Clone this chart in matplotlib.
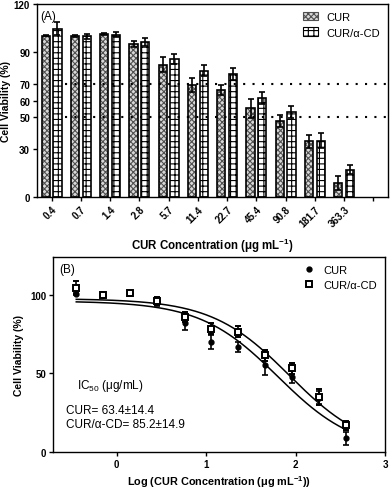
import numpy as np
import matplotlib
matplotlib.use("Agg")
import matplotlib.pyplot as plt

plt.rcParams['font.family'] = ['Liberation Sans', 'DejaVu Sans']
plt.rcParams['mathtext.fontset'] = 'custom'
plt.rcParams['mathtext.rm'] = 'Liberation Sans'
plt.rcParams['mathtext.bf'] = 'Liberation Sans:bold'
plt.rcParams['mathtext.default'] = 'rm'
plt.rcParams['hatch.linewidth'] = 0.8

# concentrations (ug/mL) and their log values
conc_labels = ["0.4", "0.7", "1.4", "2.8", "5.7", "11.4", "22.7", "45.4", "90.8", "181.7", "363.3"]
log_conc = [-0.45, -0.15, 0.15, 0.45, 0.76, 1.06, 1.36, 1.66, 1.96, 2.26, 2.56]

# cell viability (%)
cur_mean = [100.3, 100.0, 101.4, 95.1, 82.3, 69.7, 66.7, 55.2, 47.5, 34.6, 8.7]
cur_err = [0.5, 0.5, 0.6, 2.0, 4.5, 4.5, 3.0, 6.0, 3.7, 4.0, 4.2]
cd_mean = [104.5, 100.0, 101.0, 96.2, 85.8, 78.5, 76.5, 61.4, 53.1, 35.0, 17.0]
cd_err = [4.0, 1.5, 1.5, 2.5, 3.0, 3.5, 3.5, 3.7, 3.7, 4.8, 3.0]

# fitted dose-response parameters (top, bottom, logIC50, hill)
cur_fit = [96.0, 0.0, np.log10(63.4), 1.0]
cd_fit = [97.5, 0.0, np.log10(85.2), 1.0]


def dose_resp(x, top, bottom, logic50, hill):
    return bottom + (top - bottom) / (1 + 10 ** ((x - logic50) * hill))


fig = plt.figure(figsize=(3.92, 4.89), dpi=100)
ekw = dict(ecolor='black', elinewidth=1.2, capsize=2.5, capthick=1.2)

# ---- panel A
ax1 = fig.add_axes([37/392, 1-198/489, 351/392, 193/489])
x = np.arange(len(conc_labels))
w = 0.28
# hatched fill first (gray hatch lines), then black outline + error bars
ax1.bar(x - 0.2, cur_mean, w, color='#d8d8d8', edgecolor='#505050', hatch='xxxxxx',
        linewidth=0)
ax1.bar(x + 0.2, cd_mean, w, color='white', edgecolor='black', hatch='+++', linewidth=0)
ax1.bar(x - 0.2, cur_mean, w, yerr=cur_err, fill=False, edgecolor='black',
        linewidth=1.2, error_kw=ekw)
ax1.bar(x + 0.2, cd_mean, w, yerr=cd_err, fill=False, edgecolor='black',
        linewidth=1.2, error_kw=ekw)
# legend proxies
p1 = ax1.bar([0], [0], color='#d8d8d8', edgecolor='#505050', hatch='xxxxxx', linewidth=0.8)
p2 = ax1.bar([0], [0], color='white', edgecolor='black', hatch='+++', linewidth=0.8)
for lvl in [70, 50]:
    ax1.plot([0.45, 11.5], [lvl, lvl], color='black', lw=1.5, ls=(0, (1, 3.5)))
ax1.set_xlim(-0.5, 11.5)
ax1.set_ylim(0, 120)
ax1.set_yticks([0, 30, 50, 60, 70, 90, 120])
ax1.set_xticks(np.arange(len(conc_labels) + 1))
ax1.set_xticklabels(conc_labels + [""], rotation=45, ha='right', rotation_mode='anchor')
ax1.tick_params(labelsize=7, width=1, length=3, pad=2)
for t in ax1.get_xticklabels() + ax1.get_yticklabels():
    t.set_fontweight('bold')
ax1.set_ylabel("Cell Viability (%)", fontsize=7.5, fontweight='bold', labelpad=2)
ax1.set_xlabel("CUR Concentration (μg mL$^{\\mathbf{-1}}$)", fontsize=8.3, fontweight='bold',
               labelpad=5)
ax1.text(0.01, 0.97, "(A)", transform=ax1.transAxes, fontsize=8.5, va='top')
ax1.legend([p1, p2], ['CUR', 'CUR/α-CD'], loc='upper right', frameon=False, fontsize=8,
           handlelength=1.3, handleheight=0.8, borderaxespad=0.3)
for s in ax1.spines.values():
    s.set_linewidth(1)

# ---- panel B
ax2 = fig.add_axes([53/392, 1-453/489, 332/392, 195/489])
xs = np.linspace(log_conc[0], log_conc[-1], 200)
ax2.plot(xs, dose_resp(xs, *cur_fit), color='black', lw=1.1)
ax2.plot(xs, dose_resp(xs, *cd_fit), color='black', lw=1.1)
ax2.errorbar(log_conc, cur_mean, yerr=cur_err, fmt='o', color='black', ms=3.5,
             label='CUR', elinewidth=1.2, capsize=2.5, capthick=1.2)
ax2.errorbar(log_conc, cd_mean, yerr=cd_err, fmt='s', color='black', mfc='white', ms=5,
             mew=1.4, label='CUR/α-CD', elinewidth=1.2, capsize=2.5, capthick=1.2)
ax2.set_xlim(-0.71, 3)
ax2.set_ylim(0, 124)
ax2.set_xticks([0, 1, 2, 3])
ax2.set_yticks([0, 50, 100])
ax2.tick_params(labelsize=7, width=1, length=3, pad=2)
for t in ax2.get_xticklabels() + ax2.get_yticklabels():
    t.set_fontweight('bold')
ax2.set_ylabel("Cell Viability (%)", fontsize=7.5, fontweight='bold', labelpad=4)
ax2.set_xlabel("Log (CUR Concentration (μg mL$^{\\mathbf{-1}}$))", fontsize=7.8,
               fontweight='bold', labelpad=3)
ax2.text(0.02, 0.97, "(B)", transform=ax2.transAxes, fontsize=8.5, va='top')
ax2.text(-0.44, 42.6, "IC$_{50}$ (μg/mL)", fontsize=8.5, va='center')
ax2.text(-0.56, 26.9, "CUR= 63.4±14.4", fontsize=8.5, va='center')
ax2.text(-0.56, 17.8, "CUR/α-CD= 85.2±14.9", fontsize=8.5, va='center')
h, l = ax2.get_legend_handles_labels()
h = [hh[0] for hh in h]
ax2.legend(h, l, loc='upper right', frameon=False, fontsize=8, handlelength=1.0,
           borderaxespad=0.3)
for s in ax2.spines.values():
    s.set_linewidth(1)

fig.savefig("out.png", dpi=100)
